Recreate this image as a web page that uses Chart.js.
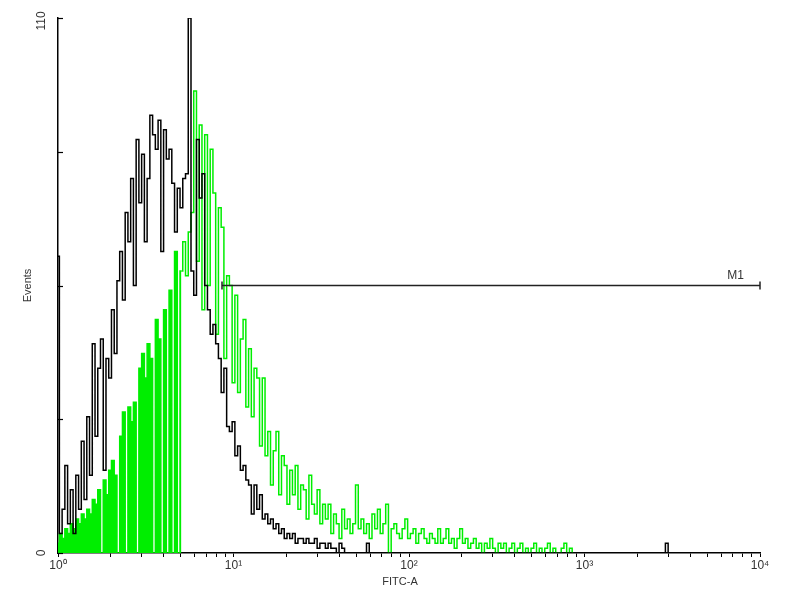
<!DOCTYPE html>
<html>
<head>
<meta charset="utf-8">
<script src="https://cdn.jsdelivr.net/npm/chart.js@4.4.1/dist/chart.umd.min.js"></script>
<style>
html, body { margin: 0; padding: 0; background: #fff; }
</style>
</head>
<body>
<canvas id="grafico" width="800" height="600"></canvas>
<script>
// histograma: canais log, 64 por decada (10^0 .. 10^4)
const canaisPorDecada = 64

// controle (preto), canais 0..105
const preto = [61, 4, 9, 18, 6, 13, 4, 16, 9, 23,
    11, 28, 16, 43, 24, 38, 44, 17, 40, 36,
    50, 41, 56, 62, 52, 70, 64, 77, 55, 85,
    72, 82, 64, 77, 90, 86, 83, 89, 62, 87,
    81, 83, 76, 66, 75, 71, 77, 78, 110, 58,
    53, 85, 73, 78, 55, 50, 45, 47, 43, 40,
    33, 38, 26, 25, 27, 20, 22, 17, 18, 15,
    14, 8, 14, 9, 12, 7, 8, 6, 7, 5,
    6, 4, 5, 3, 4, 3, 4, 2, 3, 3,
    2, 3, 2, 2, 3, 1, 2, 2, 1, 2,
    1, 1, 0, 2, 1, 0]
// eventos soltos do controle depois do canal 105
const pretoCaudaCanal = [112, 113, 114, 221, 222, 223]
const pretoCaudaValor = [0, 2, 0, 0, 2, 0]

// amostra FITC (verde), canais 0..188
const verde = [2, 4, 3, 5, 4, 6, 5, 7, 6, 8,
    7, 9, 8, 11, 10, 13, 0, 15, 12, 17,
    19, 16, 0, 24, 29, 0, 30, 27, 31, 0,
    38, 41, 36, 43, 40, 0, 48, 44, 0, 50,
    0, 54, 0, 62, 0, 58, 64, 57, 66, 70,
    95, 60, 88, 50, 86, 55, 83, 74, 45, 71,
    67, 40, 57, 55, 35, 53, 33, 44, 48, 30,
    42, 28, 38, 36, 22, 36, 20, 25, 14, 21,
    25, 12, 20, 18, 10, 17, 12, 18, 9, 14,
    13, 7, 16, 10, 8, 13, 6, 10, 7, 10,
    4, 8, 6, 3, 9, 5, 7, 4, 6, 14,
    5, 7, 4, 6, 3, 8, 5, 9, 4, 6,
    10, 0, 5, 6, 4, 3, 5, 7, 3, 4,
    5, 2, 4, 5, 3, 2, 4, 3, 2, 5,
    2, 3, 5, 2, 3, 1, 3, 5, 2, 3,
    1, 2, 3, 1, 2, 0, 2, 1, 3, 1,
    0, 2, 1, 2, 0, 1, 2, 0, 1, 2,
    0, 1, 0, 1, 2, 0, 1, 0, 1, 2,
    0, 1, 0, 0, 1, 2, 0, 1, 0]
// ate este canal o verde aparece cheio ate a base (canais baixos densos)
const verdeCheioAte = 45

// marcador M1
const marcadorInicio = 8.6
const marcadorFim = 10000
const marcadorNivel = 55
const marcadorNome = 'M1'

// eixos
const yTicks = [0, 27.5, 55, 82.5, 110]
const yRotulos = ['0', '110']
const decadas = [1, 10, 100, 1000]
const passos = [1, 2, 3, 4, 5, 6, 7, 8, 9]
const xRotulos = ['10⁰', '10¹', '10²', '10³', '10⁴']
const tituloX = 'FITC-A'
const tituloY = 'Events'

const fonte = "'Liberation Sans', Arial, sans-serif"
const corVerde = '#00ee00'

function pontos(valores, inicio = 0) {//canal -> posicao no eixo log
    return valores.map((v, i) => ({ x: Math.pow(10, (inicio + i) / canaisPorDecada), y: v }))
}

function pontosCauda(canais, valores) {
    return canais.map((c, k) => ({ x: Math.pow(10, c / canaisPorDecada), y: valores[k] }))
}

// desenha ticks internos do eixo y, rotulos girados e textos soltos
const extras = {
    id: 'extras',
    afterDraw(chart) {
        let ctx = chart.ctx
        let area = chart.chartArea
        let ey = chart.scales.y
        ctx.save()
        ctx.strokeStyle = '#000'
        ctx.lineWidth = 1.2
        for (let v of yTicks) {
            let py = Math.round(ey.getPixelForValue(v)) + 0.5
            ctx.beginPath()
            ctx.moveTo(area.left, py)
            ctx.lineTo(area.left + 5, py)
            ctx.stroke()
        }
        ctx.fillStyle = '#333'
        ctx.font = '12px ' + fonte
        ctx.textAlign = 'center'
        ctx.textBaseline = 'middle'
        let extremos = [0, 110]
        extremos.forEach((v, k) => {
            ctx.save()
            ctx.translate(area.left - 16, ey.getPixelForValue(v) + (k == 1 ? 3 : 0))
            ctx.rotate(-Math.PI / 2)
            ctx.fillText(yRotulos[k], 0, 0)
            ctx.restore()
        })
        ctx.font = '11px ' + fonte
        ctx.save()
        ctx.translate(area.left - 30, (area.top + area.bottom) / 2)
        ctx.rotate(-Math.PI / 2)
        ctx.fillText(tituloY, 0, 0)
        ctx.restore()
        ctx.fillText(tituloX, (area.left + area.right) / 2 - 9, area.bottom + 29)
        let ex = chart.scales.x
        ctx.font = '12px ' + fonte
        ctx.textAlign = 'right'
        ctx.fillText(marcadorNome, ex.getPixelForValue(marcadorFim) - 16, ey.getPixelForValue(marcadorNivel) - 10)
        ctx.restore()
    }
}

let chart = new Chart(document.getElementById('grafico'), {
    type: 'line',
    data: {
        datasets: [{
            label: marcadorNome,
            data: [{ x: marcadorInicio, y: marcadorNivel }, { x: marcadorFim, y: marcadorNivel }],
            borderColor: '#222',
            borderWidth: 1.3,
            pointStyle: 'line',
            rotation: 90,
            pointRadius: 4,
            pointBorderColor: '#222',
            pointBorderWidth: 1.5,
            clip: 6
        }, {
            label: 'controle',
            data: pontos(preto).concat(pontosCauda(pretoCaudaCanal, pretoCaudaValor)),
            borderColor: '#000',
            borderWidth: 1.5,
            stepped: 'middle',
            pointRadius: 0,
            fill: false
        }, {
            label: 'FITC baixo',
            data: pontos(verde.slice(0, verdeCheioAte + 1)),
            borderColor: corVerde,
            backgroundColor: corVerde,
            borderWidth: 1.5,
            stepped: 'middle',
            pointRadius: 0,
            fill: 'origin'
        }, {
            label: 'FITC',
            data: pontos(verde.slice(verdeCheioAte), verdeCheioAte),
            borderColor: corVerde,
            borderWidth: 1.5,
            stepped: 'middle',
            pointRadius: 0,
            fill: false
        }]
    },
    options: {
        responsive: false,
        animation: false,
        devicePixelRatio: 1,
        layout: { padding: { left: 0, right: 40, top: 18, bottom: 0 } },
        plugins: { legend: { display: false }, tooltip: { enabled: false } },
        scales: {
            x: {
                type: 'logarithmic',
                min: 1,
                max: 10000,
                border: { color: '#000', width: 1.5 },
                grid: { drawOnChartArea: false, tickLength: 4, color: '#000', lineWidth: 1 },
                afterBuildTicks: s => {
                    s.ticks = decadas.flatMap(d => passos.map(p => ({ value: d * p }))).concat([{ value: 10000 }])
                },
                ticks: {
                    autoSkip: false,
                    maxRotation: 0,
                    minRotation: 0,
                    padding: 1,
                    color: '#333',
                    font: { family: fonte, size: 12 },
                    callback: v => {
                        let e = Math.log10(v)
                        return Math.abs(e - Math.round(e)) < 1e-9 ? xRotulos[Math.round(e)] : ''
                    }
                },
                afterFit: s => { s.height = 47 }
            },
            y: {
                min: 0,
                max: 110,
                border: { color: '#000', width: 1.5 },
                grid: { display: false },
                ticks: { display: false },
                afterFit: s => { s.width = 58 }
            }
        }
    },
    plugins: [extras]
})
</script>
</body>
</html>
